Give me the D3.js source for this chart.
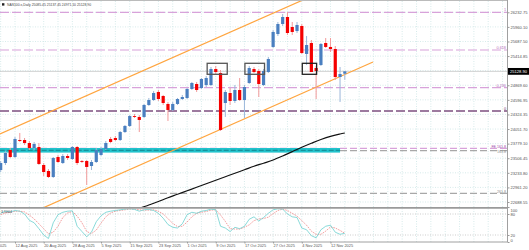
<!DOCTYPE html>
<html><head><meta charset="utf-8">
<script src="https://cdn.jsdelivr.net/npm/d3@7/dist/d3.min.js"></script>
<style>
body{margin:0;background:#fff;overflow:hidden}
svg{display:block}
text{font-family:"Liberation Sans",Arial,sans-serif}
</style>
</head><body>
<svg id="c" width="529" height="250"></svg>
<script>
// ---- DATA ----
const title = "NAS100.s,Daily  25085.45 25137.45 24971.10 25128.90";
const firstBar = -3; // bar index of first candle (index 0 = 12 Aug 2025)
const opens  = [23286,23417,23660,23529,23847,23847,23791,23697,23716,23380,23268,23156,23529,23417,23548,23492,23716,23455,23455,23361,23436,23567,23679,23866,23884,23847,23996,24109,24295,24277,24277,24501,24594,24744,24669,24520,24408,24520,24613,24632,24800,24893,24818,24874,24874,25173,25099,24538,24725,24576,24781,24594,24912,25173,25136,24874,25117,25585,25827,26014,26145,25958,25883,25977,25454,25659,25192,25248,25659,25585,25547,25024,25085.45];
const highs  = [23455,23641,23697,23903,23978,23884,23828,23810,23791,23417,23305,23529,23567,23585,23585,23735,23735,23473,23473,23473,23697,23716,23828,23903,23922,24015,24127,24314,24333,24314,24520,24632,24762,24781,24688,24557,24557,24632,24688,24818,24931,24931,25005,25043,25211,25230,25155,24781,24818,24874,25005,24874,25230,25211,25173,25173,25398,25902,26052,26201,26238,26052,26052,26014,25790,25715,25230,25659,25752,25752,25603,25211,25137.45];
const lows   = [23249,23380,23511,23511,23810,23754,23660,23660,23380,23174,23137,23137,23417,23399,23473,23473,23380,23417,23006,23286,23417,23548,23660,23791,23828,23828,23978,24090,24258,23996,24258,24482,24576,24576,24501,24202,24389,24501,24594,24613,24781,24744,24800,24837,24856,25080,24015,24277,24501,24538,24576,24258,24893,25099,24650,24856,25099,25566,25790,25977,25809,25809,25846,25454,25248,25117,24613,25230,25566,25491,24968,24557,24971.10];
const closes = [23417,23604,23529,23866,23828,23791,23697,23772,23399,23249,23156,23511,23436,23548,23511,23716,23417,23445,23343,23436,23660,23679,23791,23810,23847,23996,24109,24295,24286,24221,24501,24594,24725,24613,24538,24408,24520,24613,24650,24800,24912,24781,24987,25005,25173,25117,24034,24744,24576,24781,24594,24837,25192,25117,24893,25136,25360,25865,26014,26145,25846,25865,25996,25472,25622,25117,25136,25641,25585,25547,25024,25080,25128.90];
const stochK = [82,88,86,90,88,80,62,55,38,20,10,55,78,85,88,89,45,30,15,28,58,75,85,88,90,92,94,95,93,88,92,93,90,82,68,50,42,40,52,78,85,82,88,90,94,92,45,40,30,42,38,45,65,72,60,70,82,92,95,94,80,72,70,40,35,18,12,35,45,48,28,22,25];
const stochD = [78,83,85,88,88,86,77,66,52,38,23,28,45,70,83,87,74,55,30,24,34,54,72,83,88,90,92,94,94,92,91,91,92,88,80,67,53,44,45,57,72,82,85,87,91,92,77,59,38,37,37,42,49,61,66,67,71,81,90,94,90,82,74,61,48,31,22,22,31,43,40,33,25];
const maIndex  = [24,26,28,30,32,34,36,38,40,42,44,46,48,50,52,54,56,58,60,62,64,66,68,69];
const maValues = [22501.7,22568.9,22632.4,22697.8,22768.8,22832.3,22897.7,22963.1,23030.3,23095.7,23161.1,23226.5,23290.0,23355.4,23413.3,23473.1,23547.9,23630.0,23710.4,23785.1,23856.1,23915.9,23958.9,23977.6];
const priceTicks = [26232.75,25960.12,25687.49,25414.86,25142.23,24869.60,24596.97,24324.34,24051.71,23779.08,23506.45,23233.82,22961.19,22688.55];
const priceTickLabels = ["26232.75","25960.10","25687.50","25414.85","25142.20","24869.60","24596.95","24324.35","24051.70","23779.10","23506.45","23233.80","22961.20","22688.55"];
const dateIndex  = [-6,0,6,12,18,24,30,36,42,48,54,60,66];
const dateLabels = ["4 Aug 2025","12 Aug 2025","20 Aug 2025","28 Aug 2025","5 Sep 2025","15 Sep 2025","23 Sep 2025","1 Oct 2025","9 Oct 2025","17 Oct 2025","27 Oct 2025","4 Nov 2025","12 Nov 2025"];
const fibLevels = [26232.75,25528.3,24824.1,24388.9];
const fibLabels = ["1","0.618","0.236","0"];
const feLevels  = [23691.8,23647.0,22851.0];
const feLabels  = ["FE 161.8","161.8","261.8"];
const channelIdx   = [-3.14,74.9];
const channelUpper = [23960.6,27041.7];
const channelLower = [22223.1,25304.2];
const zoneIdx   = [-3.2,68];
const zonePrice = [23611.5,23697.4];
const boxStart = [40.2,48.1,60.1];
const boxEnd   = [44.4,52.2,63.1];
const boxLow   = [25074.4,25074.4,25074.4];
const boxHigh  = [25279.9,25279.9,25279.9];
const oscLevels = [80,20];
const oscTicks = [100,80,20,0];
const oscLabel = "3.5004";

// ---- CHART ----
const svg = d3.select("#c");
const plotR = 507.5, mainTop = 1, mainBot = 207.5, oscTop = 208.5, oscBot = 242;
const x  = d3.scaleLinear().domain([-3.14,102.93]).range([0,507]);
const yP = d3.scaleLinear().domain([22688.55,26232.75]).range([202,12.3]);
const yS = d3.scaleLinear().domain([0,100]).range([242,207]);

const defs = svg.append("defs");
defs.append("clipPath").attr("id","cm").append("rect").attr("x",0).attr("y",mainTop).attr("width",plotR).attr("height",mainBot-mainTop);
defs.append("clipPath").attr("id","co").append("rect").attr("x",0).attr("y",oscTop).attr("width",plotR).attr("height",oscBot-oscTop);

const main = svg.append("g").attr("clip-path","url(#cm)");
const osc  = svg.append("g").attr("clip-path","url(#co)");

// grid
const gridCol = "#c6e2e2";
const gridIdx = d3.range(-3, 103, 3);
[main, osc].forEach((g,k)=>{
  g.selectAll(".vg").data(gridIdx).join("line")
    .attr("x1",d=>x(d)).attr("x2",d=>x(d))
    .attr("y1",k?oscTop:mainTop).attr("y2",k?oscBot:mainBot)
    .attr("stroke",gridCol).attr("stroke-width",0.7).attr("stroke-dasharray","1,1.5");
});
main.selectAll(".hg").data(priceTicks).join("line")
  .attr("x1",0).attr("x2",plotR).attr("y1",d=>yP(d)).attr("y2",d=>yP(d))
  .attr("stroke",gridCol).attr("stroke-width",0.7).attr("stroke-dasharray","1,1.5");

// bid line
main.append("line").attr("x1",0).attr("x2",plotR)
  .attr("y1",yP(closes[closes.length-1])).attr("y2",yP(closes[closes.length-1]))
  .attr("stroke","#c8c8c8").attr("stroke-width",0.8);

// fib + FE levels
const fibCols = ["#d8a2da","#d8a2da","#d8a2da","#7d4f80"];
main.selectAll(".fib").data(fibLevels).join("line")
  .attr("x1",0).attr("x2",plotR).attr("y1",d=>yP(d)).attr("y2",d=>yP(d))
  .attr("stroke",(d,i)=>fibCols[i]).attr("stroke-width",(d,i)=>i==3?1.4:1.2)
  .attr("stroke-dasharray","9,3");
const feCols = ["#d8a2da","#a8a8a8","#a8a8a8"];
main.selectAll(".fe").data(feLevels).join("line")
  .attr("x1",0).attr("x2",plotR).attr("y1",d=>yP(d)).attr("y2",d=>yP(d))
  .attr("stroke",(d,i)=>feCols[i]).attr("stroke-width",1.2).attr("stroke-dasharray","7,3");

// cyan zone
main.append("rect").attr("x",x(zoneIdx[0])).attr("width",x(zoneIdx[1])-x(zoneIdx[0]))
  .attr("y",yP(zonePrice[1])).attr("height",yP(zonePrice[0])-yP(zonePrice[1]))
  .attr("fill","#22c3cc");
main.append("line").attr("x1",x(zoneIdx[0])).attr("x2",x(zoneIdx[1]))
  .attr("y1",yP((zonePrice[0]+zonePrice[1])/2)).attr("y2",yP((zonePrice[0]+zonePrice[1])/2))
  .attr("stroke","#12808a").attr("stroke-width",0.9).attr("stroke-dasharray","5,2");

// channel
const lineP = d3.line().x(d=>x(d[0])).y(d=>yP(d[1]));
[channelUpper, channelLower].forEach(ch=>{
  main.append("path").attr("d", lineP(channelIdx.map((v,i)=>[v,ch[i]])))
    .attr("fill","none").attr("stroke","#ffa53f").attr("stroke-width",1.2);
});

// moving average
main.append("path").attr("d", d3.line().curve(d3.curveMonotoneX).x(d=>x(d[0])).y(d=>yP(d[1]))(maIndex.map((v,i)=>[v,maValues[i]])))
  .attr("fill","none").attr("stroke","#111").attr("stroke-width",1.2);

// candles
const bars = opens.map((o,k)=>({i:firstBar+k,o,h:highs[k],l:lows[k],c:closes[k]}));
main.selectAll(".wick").data(bars).join("line")
  .attr("x1",d=>x(d.i)).attr("x2",d=>x(d.i)).attr("y1",d=>yP(d.h)).attr("y2",d=>yP(d.l))
  .attr("stroke",d=>d.c>=d.o?"#9bb7da":"#f29a9a").attr("stroke-width",1);
main.selectAll(".body").data(bars).join("rect")
  .attr("x",d=>x(d.i)-1.6).attr("width",3.2)
  .attr("y",d=>yP(Math.max(d.o,d.c)))
  .attr("height",d=>Math.max(0.9,Math.abs(yP(d.o)-yP(d.c))))
  .attr("fill",d=>d.c>=d.o?"#4a7fc0":"#f50000");

// boxes
main.selectAll(".box").data(boxStart).join("rect")
  .attr("x",(d,i)=>x(d)).attr("width",(d,i)=>x(boxEnd[i])-x(d))
  .attr("y",(d,i)=>yP(boxHigh[i])).attr("height",(d,i)=>yP(boxLow[i])-yP(boxHigh[i]))
  .attr("fill","none").attr("stroke",(d,i)=>i<2?"#555":"#222").attr("stroke-width",1.3);

// level labels
svg.selectAll(".fibl").data(fibLevels).join("text")
  .attr("x",506).attr("y",d=>yP(d)-1).attr("text-anchor","end")
  .attr("font-size",3.8).attr("fill",(d,i)=>i==3?"#6a3a6e":"#b870bc").text((d,i)=>fibLabels[i]);
const feTxtCol = ["#a048a8","#8a8a8a","#8a8a8a"];
const feDy = [-0.8,2.2,-0.6];
svg.selectAll(".fel").data(feLevels).join("text")
  .attr("x",506).attr("y",(d,i)=>yP(d)+feDy[i]).attr("text-anchor","end")
  .attr("font-size",3.6).attr("fill",(d,i)=>feTxtCol[i]).text((d,i)=>feLabels[i]);

// oscillator
osc.selectAll(".ol").data(oscLevels).join("line")
  .attr("x1",0).attr("x2",plotR).attr("y1",d=>yS(d)).attr("y2",d=>yS(d))
  .attr("stroke","#b8b8b8").attr("stroke-width",0.7).attr("stroke-dasharray","1,1.5");
const lineS = d3.line().x((d,k)=>x(firstBar+k)).y(d=>yS(d));
osc.append("path").attr("d",lineS(stochD)).attr("fill","none")
  .attr("stroke","#f08585").attr("stroke-width",0.8).attr("stroke-dasharray","1.6,1");
osc.append("path").attr("d",lineS(stochK)).attr("fill","none")
  .attr("stroke","#6cd0cf").attr("stroke-width",0.8);
svg.append("text").attr("x",1).attr("y",212.5).attr("font-size",3.6).attr("fill","#555").text(oscLabel);

// borders
svg.append("line").attr("x1",0).attr("x2",plotR).attr("y1",0.5).attr("y2",0.5).attr("stroke","#bbb").attr("stroke-width",1);
svg.append("line").attr("x1",0).attr("x2",plotR).attr("y1",207.9).attr("y2",207.9).attr("stroke","#9a9a9a").attr("stroke-width",1.6);
svg.append("line").attr("x1",plotR).attr("x2",plotR).attr("y1",0).attr("y2",oscBot).attr("stroke","#a0a0a0").attr("stroke-width",1);

// price axis
const ay = svg.append("g").attr("transform",`translate(${plotR},0)`)
  .call(d3.axisRight(yP).tickValues(priceTicks).tickSize(2).tickFormat((d,i)=>priceTickLabels[i]));
ay.select(".domain").remove();
ay.selectAll(".tick line").attr("stroke","#999");
ay.selectAll(".tick text").attr("x",3).attr("font-size",4.1).attr("fill","#555").attr("font-family",null);

// oscillator axis
const ao = svg.append("g").attr("transform",`translate(${plotR},0)`)
  .call(d3.axisRight(yS).tickValues(oscTicks).tickSize(2).tickFormat(d3.format("d")));
ao.select(".domain").remove();
ao.selectAll(".tick line").attr("stroke","#999");
ao.selectAll(".tick text").attr("x",3).attr("font-size",4.1).attr("fill","#555").attr("font-family",null)
  .attr("dy",d=>d==100?"1.1em":d==0?"-0.1em":"0.32em");

// current price box
const cp = closes[closes.length-1];
svg.append("rect").attr("x",plotR+0.5).attr("y",yP(cp)-3.4).attr("width",21).attr("height",6.8).attr("fill","#000");
svg.append("text").attr("x",plotR+2.5).attr("y",yP(cp)+1.5).attr("font-size",4.1).attr("fill","#fff").text(d3.format(".2f")(cp));

// date axis
svg.append("line").attr("x1",0).attr("x2",plotR).attr("y1",oscBot).attr("y2",oscBot).attr("stroke","#a0a0a0").attr("stroke-width",1);
const ax = svg.append("g").attr("transform",`translate(0,${oscBot})`)
  .call(d3.axisBottom(x).tickValues(dateIndex).tickSize(1.5).tickFormat((d,i)=>dateLabels[i]));
ax.select(".domain").remove();
ax.selectAll(".tick line").attr("stroke","#999");
ax.selectAll(".tick text").attr("text-anchor","start").attr("y",5.2).attr("dy",0)
  .attr("font-size",3.9).attr("fill","#555").attr("font-family",null);

// title
svg.append("rect").attr("x",2).attr("y",3.2).attr("width",2.4).attr("height",2.4).attr("fill","#222");
svg.append("text").attr("x",7).attr("y",5.9).attr("font-size",3.4).attr("fill","#444").text(title);
</script>
</body></html>
